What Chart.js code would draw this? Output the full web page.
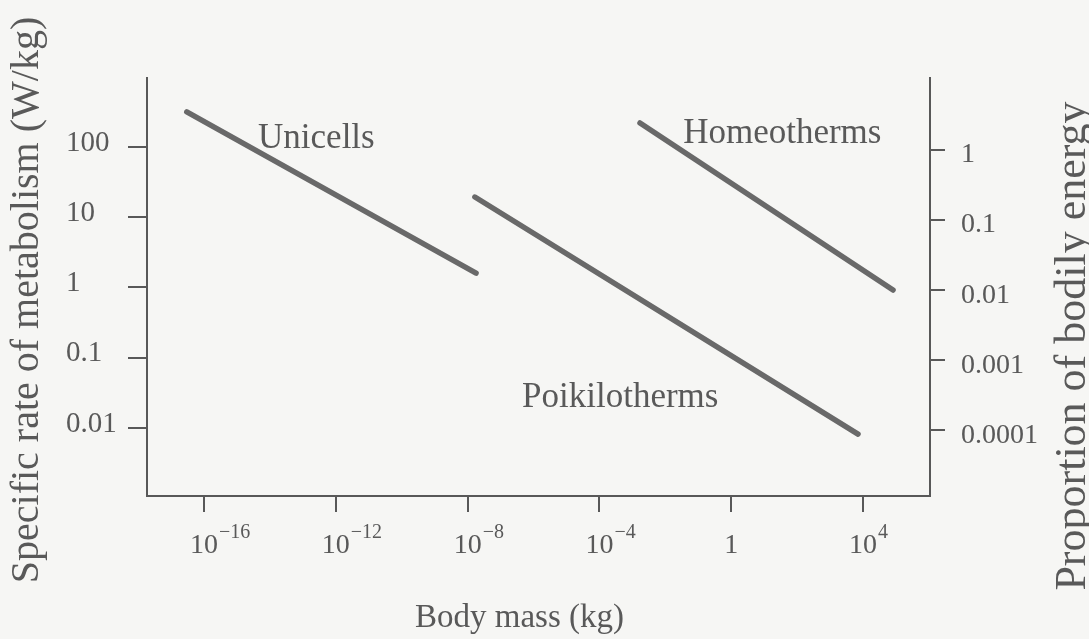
<!DOCTYPE html>
<html><head><meta charset="utf-8">
<script src="https://cdn.jsdelivr.net/npm/chart.js@4/dist/chart.umd.min.js"></script>
<style>html,body{margin:0;padding:0;background:#f6f6f4;} #wrap{width:1089px;height:639px;position:relative;overflow:hidden;} canvas{display:block}</style>
</head><body><div id="wrap"><canvas id="c" width="1089" height="639"></canvas></div>
<script>
// ---- data ----
const seriesNames = ['Unicells', 'Poikilotherms', 'Homeotherms'];
const unicellMass = [3.0e-17, 1.8e-8];
const unicellRate = [316, 1.6];
const poikiloMass = [1.66e-8, 7.0e3];
const poikiloRate = [19.4, 0.0082];
const homeoMass = [1.7e-3, 8.1e4];
const homeoRate = [220, 0.92];
const xTickExponents = [-16, -12, -8, -4, 0, 4];
const leftTicks = [0.01, 0.1, 1, 10, 100];
const leftTickLabels = ['0.01', '0.1', '1', '10', '100'];
const rightTicks = [0.0001, 0.001, 0.01, 0.1, 1];
const rightTickLabels = ['0.0001', '0.001', '0.01', '0.1', '1'];
const xTitle = 'Body mass (kg)';
const yTitle = 'Specific rate of metabolism (W/kg)';
const y2Title = 'Proportion of bodily energy';

// ---- styling / layout ----
const FONT = '"Liberation Serif", "Times New Roman", serif';
const TEXT = '#595959';
const AXIS = '#585858';
const LINE = '#696969';
// label anchors (data coordinates: mass, rate)
const labelAnchors = [
  {text: seriesNames[0], x: Math.pow(10, -14.36), y: Math.pow(10, 1.99)},
  {text: seriesNames[1], x: Math.pow(10, -6.35), y: Math.pow(10, -1.70)},
  {text: seriesNames[2], x: Math.pow(10, -1.46), y: Math.pow(10, 2.06)}
];

function pts(xs, ys){ return xs.map((x,i)=>({x:x, y:ys[i]})); }

const ds = (name, xs, ys) => ({
  label: name, data: pts(xs, ys), showLine: true, borderColor: LINE, backgroundColor: LINE,
  borderWidth: 5.5, borderCapStyle: 'round', pointRadius: 0, pointHoverRadius: 0, fill: false,
  xAxisID: 'x', yAxisID: 'y'
});

const overlay = {
  id: 'overlay',
  afterDraw(chart){
    const ctx = chart.ctx, xs = chart.scales.x, ys = chart.scales.y, ca = chart.chartArea;
    ctx.save();
    ctx.fillStyle = TEXT;
    // x tick labels with superscripts
    xTickExponents.forEach(e => {
      const px = xs.getPixelForValue(Math.pow(10, e));
      const base = ca.bottom + 57;
      ctx.font = '28px ' + FONT;
      ctx.textBaseline = 'alphabetic';
      if (e === 0) { ctx.textAlign = 'center'; ctx.fillText('1', px, base); return; }
      ctx.textAlign = 'center';
      ctx.fillText('10', px, base);
      const w = ctx.measureText('10').width;
      ctx.font = '20px ' + FONT;
      ctx.textAlign = 'left';
      const ex = (e < 0 ? '\u2212' : '') + Math.abs(e);
      ctx.fillText(ex, px + w/2 + 1, base - 15);
    });
    // curve labels
    ctx.font = '35px ' + FONT;
    ctx.textAlign = 'left';
    ctx.textBaseline = 'alphabetic';
    labelAnchors.forEach(a => ctx.fillText(a.text, xs.getPixelForValue(a.x), ys.getPixelForValue(a.y)));
    // x title
    ctx.font = '33px ' + FONT;
    ctx.textAlign = 'center';
    ctx.fillText(xTitle, (ca.left + ca.right)/2 - 19, 627);
    // left title
    ctx.save();
    ctx.translate(38, 300);
    ctx.rotate(-Math.PI/2);
    ctx.font = '40px ' + FONT;
    ctx.textAlign = 'center';
    ctx.fillText(yTitle, 0, 0);
    ctx.restore();
    // right title (clipped at the right edge, as in the source)
    ctx.save();
    ctx.translate(1085, 346);
    ctx.rotate(-Math.PI/2);
    ctx.font = '44px ' + FONT;
    ctx.textAlign = 'center';
    ctx.fillText(y2Title, 0, 0);
    ctx.restore();
    ctx.restore();
  }
};

new Chart(document.getElementById('c'), {
  type: 'scatter',
  data: { datasets: [
    ds(seriesNames[0], unicellMass, unicellRate),
    ds(seriesNames[1], poikiloMass, poikiloRate),
    ds(seriesNames[2], homeoMass, homeoRate)
  ]},
  options: {
    responsive: false, animation: false, devicePixelRatio: 1,
    layout: { padding: { left: 66, top: 78, right: 0, bottom: 0 } },
    plugins: { legend: { display: false }, tooltip: { enabled: false }, title: { display: false } },
    scales: {
      x: {
        type: 'logarithmic', position: 'bottom',
        min: Math.pow(10, -17.73), max: Math.pow(10, 6.03),
        afterBuildTicks: s => { s.ticks = xTickExponents.map(e => ({value: Math.pow(10, e)})); },
        afterFit: s => { s.height = 143; },
        ticks: { display: false },
        grid: { display: true, drawOnChartArea: false, drawTicks: true, tickLength: 16, color: AXIS, lineWidth: 2 },
        border: { display: true, color: AXIS, width: 2 }
      },
      y: {
        type: 'logarithmic', position: 'left',
        min: Math.pow(10, -2.968), max: Math.pow(10, 2.982),
        afterBuildTicks: s => { s.ticks = leftTicks.map(v => ({value: v})); },
        afterFit: s => { s.width = 81; },
        ticks: { crossAlign: 'far', color: TEXT, labelOffset: -4, font: { family: FONT, size: 29 },
                 callback: (v, i) => leftTickLabels[i] },
        grid: { display: true, drawOnChartArea: false, drawTicks: true, tickLength: 19, color: AXIS, lineWidth: 2 },
        border: { display: true, color: AXIS, width: 2 }
      },
      y2: {
        type: 'logarithmic', position: 'right',
        min: Math.pow(10, -4.94), max: Math.pow(10, 1.03),
        afterBuildTicks: s => { s.ticks = rightTicks.map(v => ({value: v})); },
        afterFit: s => { s.width = 159; },
        ticks: { color: TEXT, padding: 16, labelOffset: 5, font: { family: FONT, size: 28 },
                 callback: (v, i) => rightTickLabels[i] },
        grid: { display: true, drawOnChartArea: false, drawTicks: true, tickLength: 15, color: AXIS, lineWidth: 2 },
        border: { display: true, color: AXIS, width: 2 }
      }
    }
  },
  plugins: [overlay]
});
</script>
</body></html>
